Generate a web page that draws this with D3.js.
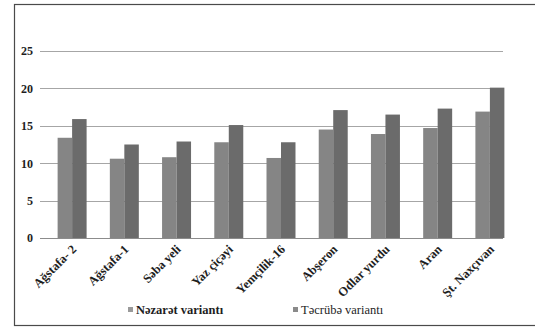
<!DOCTYPE html>
<html>
<head>
<meta charset="utf-8">
<script src="https://cdn.jsdelivr.net/npm/d3@7"></script>
<style>
  html, body { margin: 0; padding: 0; background: #fff; }
  svg { display: block; }
  text { font-family: "Liberation Serif", "Times New Roman", serif; fill: #1e1e1e; }
</style>
</head>
<body>
<svg id="chart" width="535" height="327"></svg>
<script>
// Varieties and measured values for the control and experimental plots
const varieties = ["Ağstafa- 2", "Ağstafa-1", "Səba yeli", "Yaz çiçəyi", "Yemçilik-16",
                   "Abşeron", "Odlar yurdu", "Aran", "Şt. Naxçıvan"];
const controlValues = [13.4, 10.6, 10.8, 12.8, 10.7, 14.5, 13.9, 14.7, 16.9];
const experimentValues = [15.9, 12.5, 12.9, 15.1, 12.8, 17.1, 16.5, 17.3, 20.1];
const seriesNames = ["Nəzarət variantı", "Təcrübə variantı"];
const yTicks = [0, 5, 10, 15, 20, 25];

const seriesColors = ["#858585", "#6b6b6b"];
const legendColors = ["#9a9a9a", "#8a8a8a"];

const svg = d3.select("#chart");

// outer frame
svg.append("rect")
  .attr("x", 14.5).attr("y", 4.5)
  .attr("width", 530).attr("height", 321)
  .attr("fill", "none").attr("stroke", "#4a4a4a").attr("stroke-width", 1.2);

const x = d3.scaleBand().domain(varieties).range([46, 516])
  .paddingInner(0.445).paddingOuter(0.2225);
const xSub = d3.scaleBand().domain([0, 1]).range([0, x.bandwidth()]);
const y = d3.scaleLinear().domain([0, 25]).range([238, 51]);

// horizontal gridlines
svg.append("g").selectAll("line").data(yTicks).join("line")
  .attr("x1", 40).attr("x2", 503)
  .attr("y1", d => Math.round(y(d)) + 0.5).attr("y2", d => Math.round(y(d)) + 0.5)
  .attr("stroke", d => d === 0 ? "#8c8c8c" : "#a6a6a6").attr("stroke-width", 1);

// y axis labels
const yAxis = d3.axisLeft(y).tickValues(yTicks).tickSize(0).tickPadding(0);
const yg = svg.append("g").attr("transform", "translate(33,0)").call(yAxis);
yg.select(".domain").remove();
yg.selectAll("text")
  .attr("font-size", 12).attr("font-weight", "bold")
  .style("font-family", "'Liberation Serif', serif").attr("fill", "#1e1e1e");

// bars
const groups = svg.append("g").selectAll("g").data(varieties).join("g")
  .attr("transform", d => `translate(${x(d)},0)`);
groups.selectAll("rect")
  .data((d, i) => [controlValues[i], experimentValues[i]])
  .join("rect")
  .attr("x", (d, j) => xSub(j))
  .attr("width", xSub.bandwidth())
  .attr("y", d => y(d))
  .attr("height", d => y(0) - y(d))
  .attr("fill", (d, j) => seriesColors[j]);

// rotated category labels
svg.append("g").selectAll("text").data(varieties).join("text")
  .attr("transform", d => `translate(${x(d) + x.bandwidth() / 2 + 5},250) rotate(-45)`)
  .attr("text-anchor", "end")
  .attr("font-size", 12.5)
  .attr("font-weight", "bold")
  .text(d => d);

// legend
const legendX = [128, 293];
const legend = svg.append("g").selectAll("g").data(seriesNames).join("g")
  .attr("transform", (d, i) => `translate(${legendX[i]},308)`);
legend.append("rect").attr("x", 0).attr("y", -1).attr("width", 5).attr("height", 5)
  .attr("fill", (d, i) => legendColors[i]);
legend.append("text").attr("x", 8).attr("y", 6)
  .attr("font-size", 12.5).attr("font-weight", (d, i) => i === 0 ? "bold" : "normal")
  .text(d => d);
</script>
</body>
</html>
